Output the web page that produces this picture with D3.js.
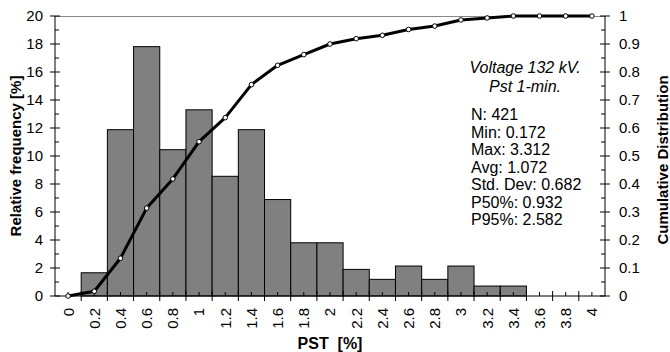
<!DOCTYPE html>
<html><head><meta charset="utf-8">
<script src="https://cdn.jsdelivr.net/npm/d3@7"></script>
<style>
body{margin:0;background:#fff;}
text{font-family:"Liberation Sans",Arial,sans-serif;}
</style></head>
<body><svg id="c" width="670" height="352"></svg>
<script>
const categories = ["0","0.2","0.4","0.6","0.8","1","1.2","1.4","1.6","1.8","2","2.2","2.4","2.6","2.8","3","3.2","3.4","3.6","3.8","4"];
const frequency = [0,1.66,11.88,17.81,10.45,13.30,8.55,11.88,6.89,3.80,3.80,1.90,1.19,2.14,1.19,2.14,0.71,0.71,0,0,0];
const cumulative = [0,0.017,0.135,0.314,0.418,0.551,0.637,0.755,0.824,0.862,0.900,0.919,0.931,0.952,0.964,0.986,0.993,1,1,1,1];
const leftTicks = [0,2,4,6,8,10,12,14,16,18,20];
const rightTicks = [0,0.1,0.2,0.3,0.4,0.5,0.6,0.7,0.8,0.9,1];
const titleLines = ["Voltage 132 kV.","Pst 1-min."];
const statLines = ["N: 421","Min: 0.172","Max: 3.312","Avg: 1.072","Std. Dev: 0.682","P50%: 0.932","P95%: 2.582"];

const svg = d3.select("#c");
const L=55, R=605, T=16, B=296;
const x = d3.scaleBand().domain(categories).range([L,R]).padding(0);
const yL = d3.scaleLinear().domain([0,20]).range([B,T]);
const yR = d3.scaleLinear().domain([0,1]).range([B,T]);
const bw = x.bandwidth();

// top border
svg.append("line").attr("x1",L).attr("x2",R).attr("y1",T+0.5).attr("y2",T+0.5).attr("stroke","#888").attr("stroke-width",1);

// bars
svg.append("g").selectAll("rect").data(categories.map((c,i)=>({c,v:frequency[i]})).filter(d=>d.v>0))
 .join("rect").attr("x",d=>x(d.c)).attr("width",bw).attr("y",d=>yL(d.v)).attr("height",d=>B-yL(d.v))
 .attr("fill","#808080").attr("stroke","#000").attr("stroke-width",1);

// left axis
const gl = svg.append("g");
gl.append("line").attr("x1",L).attr("x2",L).attr("y1",T).attr("y2",B).attr("stroke","#000");
d3.range(0,21,1).forEach(v=>{
  const y=yL(v);
  if(v%2===0) gl.append("line").attr("x1",L-5).attr("x2",L+5).attr("y1",y).attr("y2",y).attr("stroke","#000");
  else gl.append("line").attr("x1",L).attr("x2",L+4).attr("y1",y).attr("y2",y).attr("stroke","#000");
});
gl.selectAll("text").data(leftTicks).join("text").attr("x",L-12).attr("y",d=>yL(d)).attr("dy","0.36em")
 .attr("text-anchor","end").attr("font-size",15).text(d=>d);

// right axis
const gr = svg.append("g");
gr.append("line").attr("x1",R).attr("x2",R).attr("y1",T).attr("y2",B).attr("stroke","#000");
d3.range(0,21,1).forEach(i=>{
  const y=yR(i/20);
  if(i%2===0) gr.append("line").attr("x1",R-5).attr("x2",R+5).attr("y1",y).attr("y2",y).attr("stroke","#000");
  else gr.append("line").attr("x1",R-4).attr("x2",R).attr("y1",y).attr("y2",y).attr("stroke","#000");
});
gr.selectAll("text").data(rightTicks).join("text").attr("x",R+14).attr("y",d=>yR(d)).attr("dy","0.36em")
 .attr("text-anchor","start").attr("font-size",15).text(d=>d);

// bottom axis
const gb = svg.append("g");
gb.append("line").attr("x1",L).attr("x2",R).attr("y1",B).attr("y2",B).attr("stroke","#000");
categories.forEach((c,i)=>{
  const xb = x(c);
  if(i>0) gb.append("line").attr("x1",xb).attr("x2",xb).attr("y1",B-5).attr("y2",B+5).attr("stroke","#000");
  const xc = xb+bw/2;
  gb.append("line").attr("x1",xc).attr("x2",xc).attr("y1",B-4).attr("y2",B).attr("stroke","#000");
});
gb.selectAll("text").data(categories).join("text")
 .attr("transform",d=>`translate(${x(d)+bw/2},${B+12}) rotate(-90)`).attr("dy","0.36em")
 .attr("text-anchor","end").attr("font-size",15).text(d=>d);

// cumulative line
const line = d3.line().x((d,i)=>x(categories[i])+bw/2).y(d=>yR(d));
svg.append("path").datum(cumulative).attr("d",line).attr("fill","none").attr("stroke","#000").attr("stroke-width",3).attr("stroke-linejoin","round");
svg.append("g").selectAll("circle").data(cumulative).join("circle")
 .attr("cx",(d,i)=>x(categories[i])+bw/2).attr("cy",d=>yR(d)).attr("r",2.3)
 .attr("fill","#fff").attr("stroke","#000").attr("stroke-width",1);

// titles
svg.append("text").attr("transform","translate(21,156) rotate(-90)").attr("text-anchor","middle")
 .attr("font-size",15).attr("font-weight","bold").text("Relative frequency [%]");
svg.append("text").attr("transform","translate(668,160) rotate(-90)").attr("text-anchor","middle")
 .attr("font-size",15).attr("font-weight","bold").text("Cumulative Distribution");
svg.append("text").attr("x",330).attr("y",349).attr("text-anchor","middle").attr("font-size",16)
 .attr("font-weight","bold").style("white-space","pre").text("PST  [%]");

// annotation
svg.append("g").selectAll("text").data(titleLines).join("text")
 .attr("x",525).attr("y",(d,i)=>73+i*18.5).attr("text-anchor","middle").attr("font-size",16)
 .attr("font-style","italic").text(d=>d);
svg.append("g").selectAll("text").data(statLines).join("text")
 .attr("x",471).attr("y",(d,i)=>120+i*17.5).attr("font-size",16).text(d=>d);
</script></body></html>
